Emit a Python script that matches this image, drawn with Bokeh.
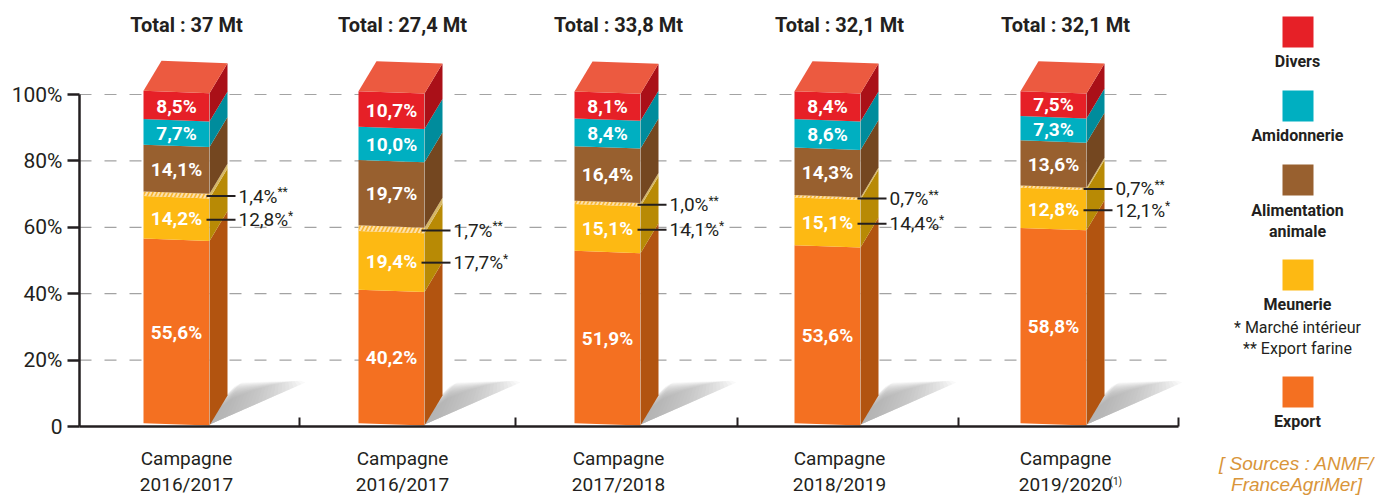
from bokeh.plotting import figure
from bokeh.embed import file_html
from bokeh.resources import INLINE
from bokeh.core.properties import value
from bokeh.models import LinearAxis, FixedTicker, Range1d

# ---- data (percent) ----
campagnes = ["Campagne\n2016/2017", "Campagne\n2016/2017", "Campagne\n2017/2018", "Campagne\n2018/2019", "Campagne\n2019/2020"]
totals = ["Total : 37 Mt", "Total : 27,4 Mt", "Total : 33,8 Mt", "Total : 32,1 Mt", "Total : 32,1 Mt"]
export = [55.6, 40.2, 51.9, 53.6, 58.8]
meunerie = [14.2, 19.4, 15.1, 15.1, 12.8]
marche_interieur = [12.8, 17.7, 14.1, 14.4, 12.1]
export_farine = [1.4, 1.7, 1.0, 0.7, 0.7]
alimentation = [14.1, 19.7, 16.4, 14.3, 13.6]
amidonnerie = [7.7, 10.0, 8.4, 8.6, 7.3]
divers = [8.5, 10.7, 8.1, 8.4, 7.5]
y_ticks = [0, 20, 40, 60, 80, 100]
y_tick_labels = ["0", "20%", "40%", "60%", "80%", "100%"]

# ---- layout (pixels) ----
W, H = 1375, 495
Y0, PX_PER = 426.0, 3.32
bar_left = [143, 358, 574, 794, 1020]
bar_w, dep_x = 66, 18
dep_y = 30 / PX_PER
tilt = 0.7
base = 0.3
label_cx = [186, 402, 618, 839, 1065]
x_seps = [299, 515, 737, 958, 1178]
FONT = "Roboto"
DARK = "#231f20"

def Y(py):
    return (Y0 - py) / PX_PER

def fmt(v):
    return f"{v:.1f}".replace(".", ",") + "%"

C_FRONT = dict(export="#f47021", meun="#fdb913", strip="#f8b42e", alim="#98602f", amid="#00afc1", div="#e62027")
C_SIDE = dict(export="#b25410", meun="#b88a05", strip="#d6b765", alim="#744720", amid="#008c9c", div="#aa1018")
C_TOP = "#ec5a40"

p = figure(width=W, height=H, x_range=Range1d(0, W), y_range=Range1d(Y(H), Y(0)),
           toolbar_location=None, output_backend="svg", x_axis_type=None, y_axis_type=None,
           min_border=0, min_border_left=0, min_border_right=0, min_border_top=0, min_border_bottom=0,
           outline_line_color=None, background_fill_color="white")

# axes
ya = LinearAxis(fixed_location=79, ticker=FixedTicker(ticks=y_ticks),
                major_label_overrides={t: l for t, l in zip(y_ticks, y_tick_labels)},
                bounds=(0, 100), axis_line_color=DARK, axis_line_width=2.5,
                major_tick_line_color=DARK, major_tick_line_width=2.5, major_tick_in=0, major_tick_out=12,
                minor_tick_line_color=None, major_label_standoff=5,
                major_label_text_font=FONT, major_label_text_font_size="21px", major_label_text_color=DARK)
p.add_layout(ya, "left")
xa = LinearAxis(fixed_location=0, ticker=FixedTicker(ticks=label_cx, minor_ticks=x_seps),
                major_label_overrides={t: l for t, l in zip(label_cx, campagnes)},
                bounds=(79, 1178), axis_line_color=DARK, axis_line_width=2.5,
                major_tick_line_color=None, major_tick_in=0, major_tick_out=0,
                minor_tick_line_color=DARK, minor_tick_line_width=2, minor_tick_in=9, minor_tick_out=0,
                major_label_standoff=20, major_label_text_font=FONT, major_label_text_font_size="19px",
                major_label_text_color=DARK, major_label_text_line_height=1.15)
p.add_layout(xa, "below")

# grid
for g in [20, 40, 60, 80, 100]:
    p.line([79, 1178], [g, g], line_color="#a3a3a3", line_width=1.2, line_dash="12 13", level="underlay")

# shadows
N = 24
for i, bl in enumerate(bar_left):
    r = bl + bar_w
    for k in range(1, N + 1):
        t = k / N
        s = 0.55 * (1 - t)
        tt = [j / 10 * t for j in range(11)]
        lo = [(r + 96 * a, 424 - 42 * a) for a in tt]
        up0 = [(r + 18 + 73 * a, 393 - 11 * min(a / 0.15, 1) - 2 * max(a - .15, 0)) for a in tt]
        up = [(u[0] + s * (l[0] - u[0]), u[1] + s * (l[1] - u[1])) for u, l in zip(up0, lo)]
        pts = up + lo[::-1]
        p.patch([q[0] for q in pts], [Y(q[1]) for q in pts], fill_color="#a5a7aa", fill_alpha=0.07, line_color=None)

# stacked 3D bars
for i, bl in enumerate(bar_left):
    r = bl + bar_w
    segs = [("export", export[i]), ("meun", marche_interieur[i]), ("strip", export_farine[i]),
            ("alim", alimentation[i]), ("amid", amidonnerie[i]), ("div", divers[i])]
    cum = base
    for name, v in segs:
        y0, y1 = cum, cum + v
        kw = {}
        if name == "strip":
            kw = dict(hatch_pattern="right_diagonal_line", hatch_color="white", hatch_alpha=0.6, hatch_scale=8, hatch_weight=2)
        p.patch([bl, r, r, bl], [y0 + tilt, y0, y1, y1 + tilt], fill_color=C_FRONT[name], line_color=None, **kw)
        p.patch([r, r + dep_x, r + dep_x, r], [y0, y0 + dep_y, y1 + dep_y, y1], fill_color=C_SIDE[name], line_color=None)
        cum = y1
    p.patch([bl, r, r + dep_x, bl + dep_x], [cum + tilt, cum, cum + dep_y, cum + tilt + dep_y], fill_color=C_TOP, line_color=None)
    p.line([r, r], [base, cum], line_color="#d9d4cc", line_alpha=0.5, line_width=0.8)

    # value labels
    cx = bl + bar_w / 2
    ys, ts = [], []
    cum = base
    ys.append(cum + export[i] / 2 + tilt / 2); ts.append(fmt(export[i]))
    cum += export[i]
    ys.append(cum + marche_interieur[i] / 2 + tilt / 2); ts.append(fmt(meunerie[i]))
    cum += meunerie[i]
    ys.append(cum + alimentation[i] / 2 + tilt / 2); ts.append(fmt(alimentation[i]))
    cum += alimentation[i]
    ys.append(cum + amidonnerie[i] / 2 + tilt / 2); ts.append(fmt(amidonnerie[i]))
    cum += amidonnerie[i]
    ys.append(cum + divers[i] / 2 + tilt / 2); ts.append(fmt(divers[i]))
    p.text([cx] * 5, ys, text=ts, text_font=value(FONT), text_font_style="bold", text_font_size="19px",
           text_color="white", text_align="center", text_baseline="middle")

    # callouts
    y_mi = base + export[i] + marche_interieur[i] / 2
    y_ef = base + export[i] + marche_interieur[i] + export_farine[i] / 2
    for yy, v, star in [(y_ef, export_farine[i], "**"), (y_mi, marche_interieur[i], "*")]:
        p.line([r - 3, r + 26], [yy, yy], line_color=DARK, line_width=2)
        s = fmt(v)
        p.text([r + 29], [yy], text=[s], text_font=value(FONT), text_font_size="19px", text_color=DARK,
               text_align="left", text_baseline="middle")
        w = sum({",": .196, "%": .73}.get(c, .5615) for c in s) * 19
        p.text([r + 29 + w], [yy + 1.2], text=[star], text_font=value(FONT), text_font_size="12px", text_color=DARK,
               text_align="left", text_baseline="middle")

# totals
p.text(label_cx, [Y(24)] * 5, text=totals, text_font=value(FONT), text_font_style="bold", text_font_size="20px",
       text_color=DARK, text_align="center", text_baseline="middle")
# footnote mark on last category
p.text([1109], [Y(481)], text=["(1)"], text_font=value(FONT), text_font_size="10px", text_color=DARK,
       text_align="left", text_baseline="middle")

# legend
sq_top = [16, 90, 164, 259, 376]
sq_keys = ["div", "amid", "alim", "meun", "export"]
for t, k in zip(sq_top, sq_keys):
    p.patch([1282, 1313, 1313, 1282], [Y(t), Y(t), Y(t + 31), Y(t + 31)], fill_color=C_FRONT[k], line_color=None)
leg_lines = [("Divers", 61, "bold"), ("Amidonnerie", 135, "bold"), ("Alimentation", 210, "bold"), ("animale", 231, "bold"),
             ("Meunerie", 304, "bold"), ("Export", 421, "bold"),
             ("* Marché intérieur", 327, "normal"), ("** Export farine", 348, "normal")]
for txt, py, st in leg_lines:
    p.text([1297], [Y(py)], text=[txt], text_font=value(FONT), text_font_style=st,
           text_font_size="16px", text_color=DARK, text_align="center", text_baseline="middle")
for txt, py in [("[ Sources : ANMF/", 463), ("FranceAgriMer]", 484)]:
    p.text([1296], [Y(py)], text=[txt], text_font=value("Liberation Sans"), text_font_style="italic",
           text_font_size="19px", text_color="#d9953a", text_align="center", text_baseline="middle")

open("out.html", "w").write(file_html(p, INLINE))
